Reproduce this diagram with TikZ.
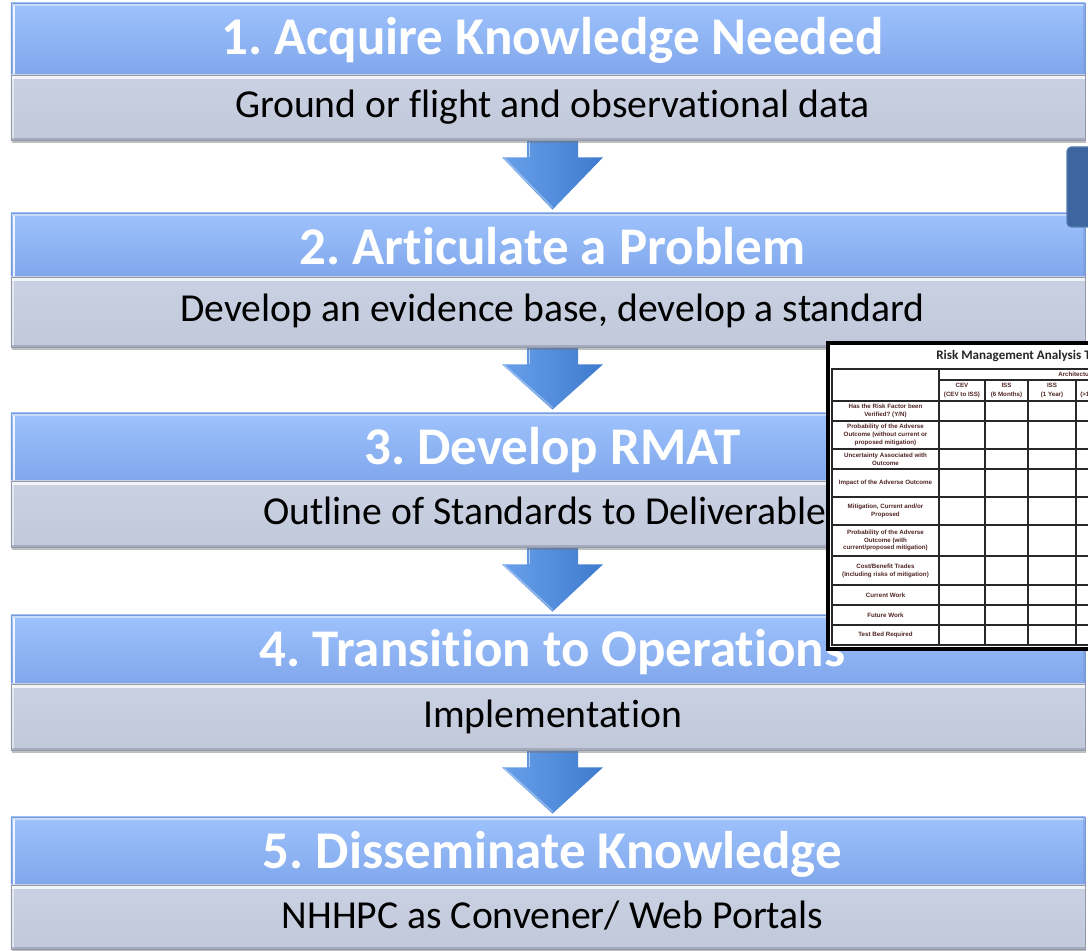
\documentclass[tikz,border=0pt]{standalone}
\usepackage{fontspec}
\setmainfont{Carlito}[Ligatures={NoCommon}]
\newfontfamily\tablefont{Liberation Sans}
\usetikzlibrary{calc,shadows}
\frenchspacing

\definecolor{bluetop}{RGB}{158,194,252}
\definecolor{bluebot}{RGB}{128,167,236}
\definecolor{blueedge}{RGB}{118,152,212}
\definecolor{graytop}{RGB}{202,209,226}
\definecolor{graybot}{RGB}{192,200,218}
\definecolor{grayedge}{RGB}{146,153,170}
\definecolor{arrowlight}{RGB}{104,160,234}
\definecolor{arrowdark}{RGB}{62,122,206}
\definecolor{panelblue}{RGB}{62,102,158}
\definecolor{paneledge}{RGB}{84,124,180}
\definecolor{celltext}{RGB}{80,36,36}
\definecolor{gridline}{RGB}{40,40,40}

\pgfdeclarelayer{background}
\pgfsetlayers{background,main}

\tikzset{
  blueband/.style={rectangle, inner sep=0pt, minimum width=26.85cm,
    top color=bluetop, bottom color=bluebot, draw=blueedge, line width=0.5pt,
    path picture={
      \draw[white, opacity=.45, line width=2pt]
        ([yshift=-1pt]path picture bounding box.north west) -- ([yshift=-1pt]path picture bounding box.north east);
      \draw[white, opacity=.85, line width=1.8pt]
        ([xshift=2.2pt,yshift=-2pt]path picture bounding box.north west) -- ([xshift=2.2pt]path picture bounding box.south west);
      \draw[blueedge, opacity=.5, line width=1.4pt]
        ([xshift=-1pt]path picture bounding box.north east) -- ([xshift=-1pt]path picture bounding box.south east);
    }},
  grayband/.style={rectangle, inner sep=0pt, minimum width=26.85cm,
    top color=graytop, bottom color=graybot, draw=grayedge, line width=0.5pt,
    drop shadow={shadow xshift=0.6pt, shadow yshift=-2.2pt, opacity=.45, fill=black!55},
    path picture={
      \draw[white, opacity=.75, line width=2.4pt]
        ([yshift=-1.6pt]path picture bounding box.north west) -- ([yshift=-1.6pt]path picture bounding box.north east);
      \draw[white, opacity=.5, line width=1.4pt]
        ([xshift=1.5pt]path picture bounding box.north west) -- ([xshift=1.5pt]path picture bounding box.south west);
      \draw[grayedge, opacity=.6, line width=1.4pt]
        ([yshift=1pt]path picture bounding box.south west) -- ([yshift=1pt]path picture bounding box.south east);
    }},
  headtext/.style={font=\fontsize{37.7}{40}\selectfont\bfseries, text=white,
    anchor=base, inner sep=0pt},
  subtext/.style={font=\fontsize{28.2}{30}\selectfont, text=black,
    anchor=base, inner sep=0pt},
  arrowbody/.style={left color=arrowlight, right color=arrowdark},
  gridl/.style={draw=gridline, line width=1.3pt},
  celllabel/.style={font=\tablefont\bfseries\fontsize{4.4}{5.6}\selectfont,
    text=celltext, align=center, inner sep=0pt},
  colhead/.style={font=\tablefont\bfseries\fontsize{4.4}{7}\selectfont,
    text=celltext, align=center, inner sep=0pt},
  tabletitle/.style={font=\fontsize{9.3}{11}\selectfont\bfseries, text=black!85,
    inner sep=0pt}
}

% block arrow from the foot of one step to the head of the next
\newcommand\flowarrow[2]{%
  \path[arrowbody] ($(#1)+(-25.5,0)$) -- ($(#1)+(25.5,0)$) -- ($(#1)+(25.5,17)$)
    -- ($(#1)+(50.5,17)$) -- (#2) -- ($(#1)+(-50.5,17)$) -- ($(#1)+(-25.5,17)$) -- cycle;
  \draw[white, opacity=.55, line width=1.2pt] ($(#1)+(-23,2)$) -- ($(#1)+(-23,17)$);
  \draw[white, opacity=.35, line width=1pt] ($(#1)+(-48,18)$) -- ($(#2)+(0,-2)$);
}

\begin{document}
\begin{tikzpicture}[x=0.025cm,y=-0.025cm]
\useasboundingbox (0,0) rectangle (1088,951);
\clip (0,0) rectangle (1088,951);
\begin{pgfonlayer}{background}
  \fill[white] (0,0) rectangle (1088,951);
\end{pgfonlayer}

% ---- step 1
\node[blueband, minimum height=1.8cm]   (b1) at (548,39)    {};
\node[grayband, minimum height=1.625cm] (g1) at (548,107.5) {};
\node[headtext] (t1) at (552.5,55)  {1. Acquire Knowledge Needed};
\node[subtext]  (s1) at (552.5,118) {Ground or flight and observational data};

% ---- step 2
\node[blueband, minimum height=1.6cm]   (b2) at (548,245) {};
\node[grayband, minimum height=1.75cm]  (g2) at (548,312) {};
\node[headtext] (t2) at (552.5,265) {2. Articulate a Problem};
\node[subtext]  (s2) at (552.5,322) {Develop an evidence base, develop a standard};

% ---- step 3
\node[blueband, minimum height=1.7cm]   (b3) at (548,447) {};
\node[grayband, minimum height=1.65cm]  (g3) at (548,514) {};
\node[headtext] (t3) at (552.5,465) {3. Develop RMAT};
\node[subtext]  (s3) at (552.5,525) {Outline of Standards to Deliverables};

% ---- step 4
\node[blueband, minimum height=1.725cm] (b4) at (548,649.5) {};
\node[grayband, minimum height=1.65cm]  (g4) at (548,717) {};
\node[headtext] (t4) at (552.5,667) {4. Transition to Operations};
\node[subtext]  (s4) at (552.5,728) {Implementation};

% ---- step 5
\node[blueband, minimum height=1.7cm]   (b5) at (548,851) {};
\node[grayband, minimum height=1.6cm]   (g5) at (548,917) {};
\node[headtext] (t5) at (552.5,869) {5. Disseminate Knowledge};
\node[subtext]  (s5) at (552.5,928) {NHHPC as Convener/ Web Portals};

% ---- arrows between steps
\foreach \i/\j in {1/2,2/3,3/4,4/5}{
  \coordinate (a\i s) at ($(g\i.south)+(4.5,0)$);
  \coordinate (a\i e) at ($(b\j.north)+(4.5,-3)$);
}
\begin{pgfonlayer}{background}
  \foreach \i in {1,2,3,4}{ \flowarrow{a\i s}{a\i e} }
\end{pgfonlayer}

% ---- side panel at the right edge
\draw[fill=panelblue, draw=paneledge, line width=0.8pt, rounded corners=3]
  (1067,147) rectangle (1110,227);

% ---- risk management analysis table
\filldraw[fill=white, draw=black, line width=2.2pt] (828,343) rectangle (1120,649);
\node[tabletitle, anchor=base west] (tt) at (936,360) {Risk Management Analysis Tool};
\draw[gridl] (832,369) rectangle (1120,645);
\draw[gridl] (939,369) -- (939,645);
\draw[gridl] (939,380) -- (1120,380);
\foreach \x in {985,1028,1076} \draw[gridl] (\x,380) -- (\x,645);
\foreach \y in {401,421,449,469,497,525,556,585,605,625} \draw[gridl] (832,\y) -- (1120,\y);

\node[colhead, anchor=west] (arch) at (1058,374.5) {Architecture};
\node[colhead] (c1) at (962,390.5)  {CEV\\(CEV to ISS)};
\node[colhead] (c2) at (1006.5,390.5) {ISS\\(6 Months)};
\node[colhead] (c3) at (1052,390.5) {ISS\\(1 Year)};
\node[colhead, anchor=west] (c4) at (1080,390.5) {ISS\\(>1 Year)};

\node[celllabel] (r1)  at (885.5,411) {Has the Risk Factor been\\Verified? (Y/N)};
\node[celllabel] (r2)  at (885.5,435) {Probability of the Adverse\\Outcome (without current or\\proposed mitigation)};
\node[celllabel] (r3)  at (885.5,459) {Uncertainty Associated with\\Outcome};
\node[celllabel] (r4)  at (885.5,483) {Impact of the Adverse Outcome};
\node[celllabel] (r5)  at (885.5,511) {Mitigation, Current and/or\\Proposed};
\node[celllabel] (r6)  at (885.5,540.5) {Probability of the Adverse\\Outcome (with\\current/proposed mitigation)};
\node[celllabel] (r7)  at (885.5,570.5) {Cost/Benefit Trades\\(Including risks of mitigation)};
\node[celllabel] (r8)  at (885.5,595) {Current Work};
\node[celllabel] (r9)  at (885.5,615) {Future Work};
\node[celllabel] (r10) at (885.5,635) {Test Bed Required};
\end{tikzpicture}
\end{document}
